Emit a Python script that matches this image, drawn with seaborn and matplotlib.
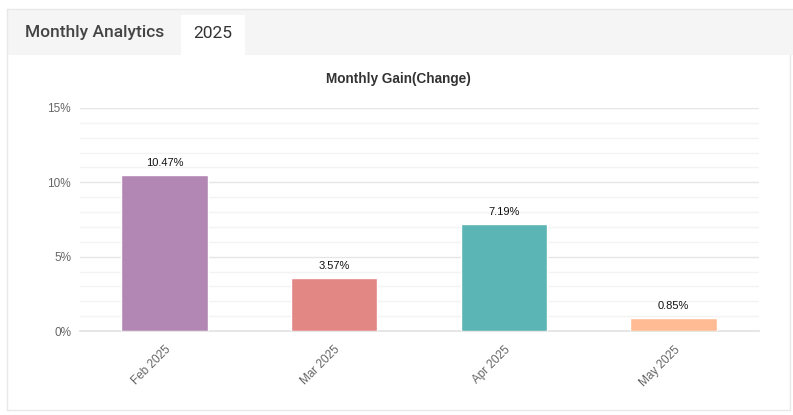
import numpy as np
import pandas as pd
import matplotlib
matplotlib.use("Agg")
import matplotlib.pyplot as plt
import seaborn as sns
from matplotlib.patches import Rectangle
from matplotlib.lines import Line2D

months = ["Feb 2025", "Mar 2025", "Apr 2025", "May 2025"]
gains = [10.47, 3.57, 7.19, 0.85]
bar_colors = ["#b387b4", "#e38784", "#5bb5b5", "#ffbc94"]
y_ticks = [0, 5, 10, 15]
y_tick_labels = ["0%", "5%", "10%", "15%"]

W, H = 793, 415

sns.set_theme(style="white")
plt.rcParams['font.family'] = ['Liberation Sans', 'DejaVu Sans']

fig = plt.figure(figsize=(W / 100, H / 100), dpi=100)
fig.patch.set_facecolor("white")

def px(x, y, w, h):
    # pixel box (top-left origin) -> figure fractions
    return (x / W, 1 - (y + h) / H, w / W, h / H)

# card header + tab
hdr = px(7, 9, 786, 46)
fig.patches.append(Rectangle(hdr[:2], *hdr[2:], transform=fig.transFigure,
                             facecolor="#f5f5f5", edgecolor="none", zorder=0))
tab = px(181, 15, 64, 40)
fig.patches.append(Rectangle(tab[:2], *tab[2:], transform=fig.transFigure,
                             facecolor="white", edgecolor="none", zorder=1))
# card borders
for xs, ys in [([7, 793], [9, 9]), ([7, 7], [9, 410]), ([7, 790], [410, 410]), ([790, 790], [55, 410])]:
    fig.lines.append(Line2D([x / W for x in xs], [1 - y / H for y in ys],
                            transform=fig.transFigure, color="#e8e8e8", lw=1))

fig.text(25 / W, 1 - 33 / H, "Monthly Analytics", fontsize=12.5, color="#444444",
         va="center", ha="left", family=["Roboto", "DejaVu Sans"], fontweight="medium")
fig.text(213 / W, 1 - 33 / H, "2025", fontsize=12.5, color="#333333",
         va="center", ha="center", family=["Roboto", "DejaVu Sans"])

fig.text(398 / W, 1 - 79 / H, "Monthly Gain(Change)", fontsize=9.8, fontweight="bold",
         color="#333333", ha="center", va="center")

ax = fig.add_axes([79.5 / W, 84 / H, 679 / W, 223 / H])
df = pd.DataFrame({"month": months, "gain": gains})
sns.barplot(data=df, x="month", y="gain", hue="month", palette=bar_colors,
            width=0.51, legend=False, ax=ax, saturation=1, zorder=3)

ax.set_ylim(0, 15)
ax.set_xlim(-0.5, 3.5)
ax.set_yticks(y_ticks)
ax.set_yticklabels(y_tick_labels)
ax.set_yticks(np.arange(0, 15, 1), minor=True)
ax.grid(axis="y", which="major", color="#e6e6e6", lw=1, zorder=0)
ax.grid(axis="y", which="minor", color="#f3f3f3", lw=1, zorder=0)
ax.set_axisbelow(True)
for s in ["top", "right", "left"]:
    ax.spines[s].set_visible(False)
ax.spines["bottom"].set_color("#e3e3e3")
ax.set_xlabel("")
ax.set_ylabel("")
ax.tick_params(axis="y", which="both", length=0, labelsize=8.5, labelcolor="#666666", pad=6)
ax.tick_params(axis="x", length=0, labelsize=8.5, labelcolor="#666666", pad=9)
for lbl in ax.get_xticklabels():
    lbl.set_rotation(45)
    lbl.set_ha("right")
    lbl.set_rotation_mode("anchor")

for i, v in enumerate(gains):
    ax.annotate(f"{v:.2f}%", (i, v), xytext=(0, 5), textcoords="offset points",
                ha="center", va="bottom", fontsize=8, color="#111111")

fig.savefig("out.png", dpi=100)
